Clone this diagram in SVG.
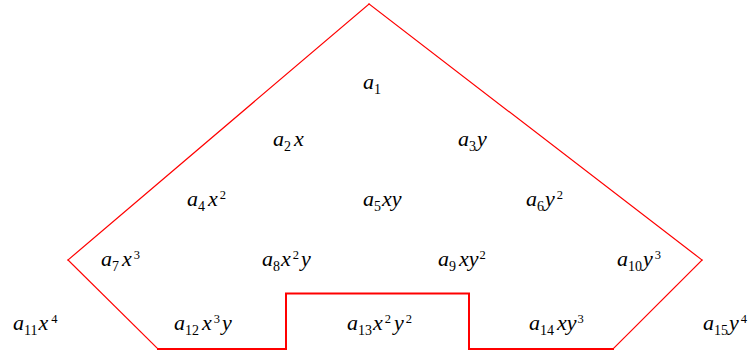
<svg xmlns="http://www.w3.org/2000/svg" width="750" height="352" viewBox="0 0 750 352">
<style>
text{font-family:"Liberation Serif","Times New Roman",serif;font-size:22px;fill:#000000}
.v{font-style:italic}
.s{font-size:14px;font-style:normal}
.p{font-size:12.5px;font-style:normal}
.edge{fill:none;stroke:#ff0000;stroke-linecap:square}
</style>
<rect width="750" height="352" fill="#ffffff"/>
<g id="connectors">
<line class="edge" stroke-width="1.2" x1="369" y1="4" x2="68" y2="260"/>
<line class="edge" stroke-width="1.2" x1="68" y1="260" x2="158" y2="349"/>
<line class="edge" stroke-width="1.2" x1="369" y1="4" x2="702" y2="260"/>
<line class="edge" stroke-width="1.2" x1="702" y1="260" x2="613" y2="349"/>
<path class="edge" stroke-width="2" d="M158,349 L286,349 L286,293.5 L469,293.5 L469,349 L613,349"/>
</g>
<g id="t1"><text x="363" y="89"><tspan class="v">a</tspan><tspan class="s" dy="5">1</tspan></text></g>
<g id="t2"><text x="273" y="146"><tspan class="v">a</tspan><tspan class="s" dy="5">2</tspan><tspan class="v" dx="3" dy="-5">x</tspan></text></g>
<g id="t3"><text x="458" y="146"><tspan class="v">a</tspan><tspan class="s" dy="5">3</tspan><tspan class="v" dx="1" dy="-5">y</tspan></text></g>
<g id="t4"><text x="187" y="206"><tspan class="v">a</tspan><tspan class="s" dy="5">4</tspan><tspan class="v" dx="3" dy="-5">x</tspan><tspan class="p" dx="2" dy="-7">2</tspan></text></g>
<g id="t5"><text x="363" y="206"><tspan class="v">a</tspan><tspan class="s" dy="5">5</tspan><tspan class="v" dx="1" dy="-5">xy</tspan></text></g>
<g id="t6"><text x="526" y="206"><tspan class="v">a</tspan><tspan class="s" dy="5">6</tspan><tspan class="v" dx="1" dy="-5">y</tspan><tspan class="p" dx="2" dy="-7">2</tspan></text></g>
<g id="t7"><text x="101" y="266"><tspan class="v">a</tspan><tspan class="s" dy="5">7</tspan><tspan class="v" dx="3" dy="-5">x</tspan><tspan class="p" dx="2" dy="-7">3</tspan></text></g>
<g id="t8"><text x="262" y="266"><tspan class="v">a</tspan><tspan class="s" dy="5">8</tspan><tspan class="v" dx="1" dy="-5">x</tspan><tspan class="p" dx="2" dy="-7">2</tspan><tspan class="v" dx="2" dy="7">y</tspan></text></g>
<g id="t9"><text x="438" y="266"><tspan class="v">a</tspan><tspan class="s" dy="5">9</tspan><tspan class="v" dx="3" dy="-5">xy</tspan><tspan class="p" dx="1" dy="-7">2</tspan></text></g>
<g id="t10"><text x="617" y="266"><tspan class="v">a</tspan><tspan class="s" dy="5">10</tspan><tspan class="v" dx="1" dy="-5">y</tspan><tspan class="p" dx="2" dy="-7">3</tspan></text></g>
<g id="t11"><text x="13" y="330"><tspan class="v">a</tspan><tspan class="s" dy="5">11</tspan><tspan class="v" dx="1" dy="-5">x</tspan><tspan class="p" dx="3" dy="-7">4</tspan></text></g>
<g id="t12"><text x="174" y="330"><tspan class="v">a</tspan><tspan class="s" dy="5">12</tspan><tspan class="v" dx="3" dy="-5">x</tspan><tspan class="p" dx="2" dy="-7">3</tspan><tspan class="v" dx="2" dy="7">y</tspan></text></g>
<g id="t13"><text x="347" y="330"><tspan class="v">a</tspan><tspan class="s" dy="5">13</tspan><tspan class="v" dx="1" dy="-5">x</tspan><tspan class="p" dx="2" dy="-7">2</tspan><tspan class="v" dx="3" dy="7">y</tspan><tspan class="p" dx="2" dy="-7">2</tspan></text></g>
<g id="t14"><text x="529" y="330"><tspan class="v">a</tspan><tspan class="s" dy="5">14</tspan><tspan class="v" dx="3" dy="-5">xy</tspan><tspan class="p" dx="1" dy="-7">3</tspan></text></g>
<g id="t15"><text x="703" y="330"><tspan class="v">a</tspan><tspan class="s" dy="5">15</tspan><tspan class="v" dx="1" dy="-5">y</tspan><tspan class="p" dx="2" dy="-7">4</tspan></text></g>
</svg>
